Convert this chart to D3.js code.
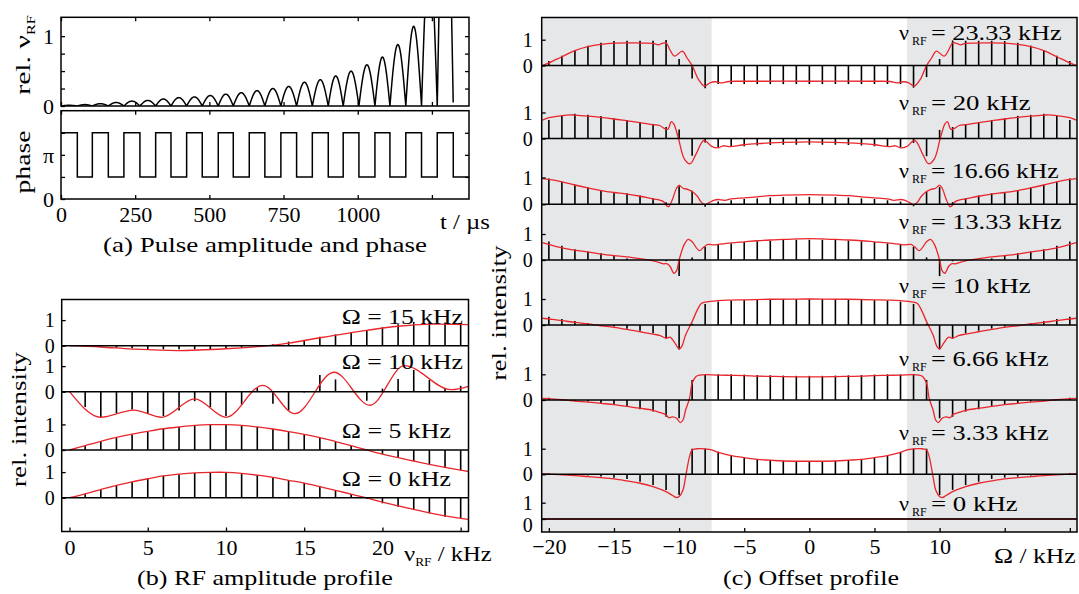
<!DOCTYPE html>
<html><head><meta charset="utf-8">
<script src="https://cdn.jsdelivr.net/npm/d3@7/dist/d3.min.js"></script>
<style>
body{margin:0;background:#fff}
svg text{font-family:"Liberation Serif","Times New Roman",serif;fill:#000}
.tick text{font-size:22px}
.ytk .tick text{font-size:20px}
</style></head><body>
<svg id="chart" width="1079" height="594"></svg>
<script>
// ---------------- DATA ----------------
// (a) pulse: switching times (µs) of the phase, phase per interval (units of π), arch peak amplitudes
const switchTimes = [0,55,105.6,159.5,212,266,319,370.6,423.4,476,530,580.6,634.5,687,741,794,847,900.7,951,1004,1058,1108.5,1162,1215,1268,1322,1376];
const phaseValues = [1.5,0.5,1.5,0.5,1.5,0.5,1.5,0.5,1.5,0.5,1.5,0.5,1.5,0.5,1.5,0.5,1.5,0.5,1.5,0.5,1.5,0.5,1.5,0.5,1.5,0.5];
const archPeaks = [0.01,0.02,0.033,0.05,0.07,0.08,0.1,0.12,0.13,0.15,0.17,0.19,0.22,0.25,0.28,0.34,0.376,0.43,0.5,0.59,0.7,0.88,1.14,2.2,4.0];
const timeTicks = [0,250,500,750,1000,1250];

// (b) RF amplitude profile
const nuRF = [0,1,2,3,4,5,6,7,8,9,10,11,12,13,14,15,16,17,18,19,20,21,22,23,24,25];
const stemsB15 = [0,-0.01,-0.04,-0.08,-0.1,-0.13,-0.14,-0.14,-0.14,-0.13,-0.1,-0.08,-0.04,0.06,0.16,0.22,0.35,0.44,0.52,0.61,0.72,0.84,0.93,0.93,0.91,0.86];
const stemsB10 = [0,-0.6,-1.0,-0.84,-0.7,-0.86,-0.95,-0.73,-0.37,-0.6,-0.95,-0.5,0.15,-0.47,-0.73,-0.03,0.65,0.48,0,-0.35,0.12,0.5,0.85,0.46,0.13,0.23];
const stemsB5  = [0,0.17,0.35,0.48,0.61,0.71,0.82,0.9,0.95,0.99,0.99,0.96,0.9,0.82,0.71,0.61,0.48,0.32,0.17,0,-0.17,-0.3,-0.43,-0.56,-0.69,-0.8];
const stemsB0  = [0,0.14,0.32,0.49,0.62,0.75,0.86,0.92,0.97,0.99,0.99,0.95,0.88,0.79,0.69,0.58,0.43,0.3,0.14,-0.05,-0.22,-0.35,-0.48,-0.61,-0.74,-0.83];
const curveB15 = [[0,0],[2,-0.05],[4,-0.13],[6.9,-0.19],[10,-0.12],[12.7,0],[14,0.1],[16,0.31],[19,0.6],[21,0.76],[23.1,0.84],[25.5,0.82]];
const curveB10 = [[0,0],[2,-1.0],[4.1,-0.72],[5.9,-1.0],[8.0,-0.28],[10.0,-1.0],[12.35,0.25],[14.4,-0.86],[16.9,0.76],[19.2,-0.53],[21.4,1.02],[24.4,0.08],[25.5,0.21]];
const curveB5  = [[0,0],[1,0.17],[2,0.34],[3,0.49],[4,0.62],[5,0.73],[6,0.83],[7,0.9],[8,0.96],[9,0.99],[10,0.99],[11,0.96],[12,0.9],[13,0.82],[14,0.72],[15,0.61],[16,0.48],[17,0.33],[18,0.17],[19,0.0],[20,-0.16],[21,-0.3],[22,-0.43],[23,-0.56],[24,-0.68],[25,-0.79],[25.5,-0.84]];
const curveB0  = [[0,0],[1,0.15],[2,0.32],[3,0.48],[4,0.62],[5,0.74],[6,0.85],[7,0.92],[8,0.97],[9,0.99],[10,0.99],[11,0.95],[12,0.88],[13,0.79],[14,0.68],[15,0.57],[16,0.43],[17,0.29],[18,0.14],[19,-0.01],[20,-0.17],[21,-0.32],[22,-0.46],[23,-0.59],[24,-0.71],[25,-0.81],[25.5,-0.85]];
const labelsB = ["15","10","5","0"];

// (c) Offset profile
const omegaC = [-20,-19,-18,-17,-16,-15,-14,-13,-12,-11,-10,-9,-8,-7,-6,-5,-4,-3,-2,-1,0,1,2,3,4,5,6,7,8,9,10,11,12,13,14,15,16,17,18,19,20];
const stemsC2333 = [0.17,0.38,0.6,0.77,0.88,0.95,0.96,0.96,0.96,0.99,0.25,-0.5,-0.88,-0.72,-0.72,-0.72,-0.72,-0.72,-0.72,-0.72,
  -0.72,
  -0.72,-0.72,-0.72,-0.72,-0.72,-0.72,-0.72,-0.86,-0.45,0.25,0.97,0.96,0.96,0.96,0.95,0.88,0.77,0.6,0.38,0.17];
const stemsC20 = [0.71,0.87,0.95,0.91,0.87,0.77,0.71,0.62,0.54,0.44,0.35,-0.66,-0.15,-0.34,-0.32,-0.3,-0.27,-0.25,-0.24,-0.24,
  -0.24,
  -0.24,-0.24,-0.25,-0.27,-0.3,-0.32,-0.34,-0.17,-0.68,0.33,0.44,0.54,0.62,0.71,0.77,0.87,0.91,0.95,0.87,0.71];
const stemsC1666 = [0.96,0.84,0.73,0.63,0.53,0.46,0.41,0.33,0.23,0.08,0.67,0.51,-0.09,0.1,0.15,0.2,0.22,0.25,0.27,0.28,
  0.28,
  0.28,0.27,0.25,0.22,0.2,0.15,0.1,-0.07,0.48,0.64,0.08,0.23,0.33,0.41,0.46,0.53,0.63,0.73,0.84,0.96];
const stemsC1333 = [0.71,0.55,0.41,0.32,0.26,0.17,0.06,0.0,-0.03,-0.05,-0.62,0.1,0.51,0.58,0.64,0.69,0.72,0.74,0.77,0.78,
  0.78,
  0.78,0.77,0.74,0.72,0.69,0.64,0.58,0.51,0.1,-0.62,-0.05,-0.03,0.0,0.06,0.17,0.26,0.32,0.41,0.55,0.71];
const stemsC10 = [0.32,0.23,0.15,0.06,0.0,-0.06,-0.14,-0.22,-0.32,-0.51,-0.94,0.05,0.81,0.9,0.94,0.96,0.97,0.98,1.0,1.0,
  1.0,
  1.0,1.0,0.98,0.97,0.96,0.94,0.9,0.81,0.05,-0.94,-0.51,-0.32,-0.22,-0.14,-0.06,0.0,0.06,0.15,0.23,0.32];
const stemsC666 = [0.09,0.0,-0.04,-0.06,-0.13,-0.19,-0.26,-0.36,-0.45,-0.65,-0.71,0.78,1.0,1.0,1.0,0.99,0.97,0.96,0.95,0.94,
  0.94,
  0.94,0.95,0.96,0.97,0.99,1.0,1.0,1.0,0.78,-0.71,-0.65,-0.45,-0.36,-0.26,-0.19,-0.13,-0.06,-0.04,0.0,0.09];
const stemsC333 = [0.04,0.0,-0.03,-0.05,-0.09,-0.13,-0.18,-0.29,-0.42,-0.61,-0.81,1.0,1.0,0.88,0.75,0.65,0.6,0.56,0.53,0.52,
  0.52,
  0.52,0.53,0.56,0.6,0.65,0.75,0.88,1.0,1.0,-0.81,-0.61,-0.42,-0.29,-0.18,-0.13,-0.09,-0.05,-0.03,0.0,0.04];
const stemsC0 = [0,0,0,0,0,0,0,0,0,0,0,0,0,0,0,0,0,0,0,0,0,0,0,0,0,0,0,0,0,0,0,0,0,0,0,0,0,0,0,0,0];

const curveC2333 = [[-20.5,0],[-20,0.1],[-19,0.34],[-18,0.58],[-17,0.73],[-16,0.82],[-15,0.87],[-14,0.88],[-13,0.87],[-12,0.86],[-11.6,0.8],[-11.3,0.86],[-11,0.88],[-10.7,0.6],[-10.35,0.36],[-9.75,0.56],[-9.4,0.3],[-9,0],[-8.5,-0.55],[-8.05,-0.8],[-7.6,-0.66],[-7.2,-0.63],[-6.7,-0.67],[-6.2,-0.62],[-5,-0.61],[0,-0.61],
  [5,-0.61],[6.2,-0.62],[6.7,-0.67],[7.2,-0.63],[7.6,-0.66],[8.05,-0.8],[8.5,-0.55],[9,0],[9.4,0.3],[9.75,0.56],[10.35,0.36],[10.7,0.6],[11,0.88],[11.3,0.86],[11.6,0.8],[12,0.86],[13,0.87],[14,0.88],[15,0.87],[16,0.82],[17,0.73],[18,0.58],[19,0.34],[20,0.1],[20.5,0]];
const curveC20 = [[-20.5,0.71],[-20,0.8],[-19,0.88],[-18.4,0.91],[-18,0.9],[-17,0.86],[-16,0.81],[-15,0.75],[-14,0.68],[-13,0.61],[-12,0.53],[-11.5,0.5],[-11.1,0.38],[-10.85,0.36],[-10.6,0.65],[-10.4,0.55],[-10.05,0],[-9.6,-0.78],[-9.15,-0.97],[-8.7,-0.6],[-8.1,-0.07],[-7.5,-0.3],[-7,-0.36],[-6.6,-0.28],[-6.2,-0.31],[-5,-0.24],[-4,-0.2],[-3,-0.17],[-2,-0.15],[0,-0.13],
  [2,-0.15],[3,-0.17],[4,-0.2],[5,-0.24],[6.2,-0.31],[6.6,-0.28],[7,-0.36],[7.5,-0.3],[8.1,-0.07],[8.7,-0.6],[9.15,-0.97],[9.6,-0.78],[10.05,0],[10.4,0.55],[10.6,0.65],[10.85,0.36],[11.1,0.38],[11.5,0.5],[12,0.53],[13,0.61],[14,0.68],[15,0.75],[16,0.81],[17,0.86],[18,0.9],[18.4,0.91],[19,0.88],[20,0.8],[20.5,0.71]];
const curveC1666 = [[-20.5,0.96],[-20,0.93],[-19,0.84],[-18,0.72],[-17,0.61],[-16,0.51],[-15,0.44],[-14,0.38],[-13,0.3],[-12,0.2],[-11.5,0.16],[-11.2,0.1],[-11,-0.03],[-10.8,-0.09],[-10.5,0.2],[-10.2,0.6],[-10,0.71],[-9.7,0.6],[-9.3,0.55],[-9,0.48],[-8.6,0.3],[-8.3,0.08],[-8,-0.01],[-7.7,0.06],[-7.3,0.16],[-7,0.18],[-6.5,0.15],[-6,0.2],[-5,0.24],[-4,0.28],[-3,0.32],[-2,0.34],[0,0.36],
  [2,0.34],[3,0.32],[4,0.28],[5,0.24],[6,0.2],[6.5,0.15],[7,0.18],[7.3,0.16],[7.7,0.06],[8,-0.01],[8.3,0.08],[8.6,0.3],[9,0.48],[9.3,0.55],[9.7,0.6],[10,0.71],[10.2,0.6],[10.5,0.2],[10.8,-0.09],[11,-0.03],[11.2,0.1],[11.5,0.16],[12,0.2],[13,0.3],[14,0.38],[15,0.44],[16,0.51],[17,0.61],[18,0.72],[19,0.84],[20,0.93],[20.5,0.96]];
const curveC1333 = [[-20.5,0.67],[-20,0.6],[-19,0.47],[-18,0.38],[-17,0.31],[-16,0.23],[-15,0.17],[-14,0.12],[-13,0.05],[-12,-0.03],[-11.5,-0.1],[-11.2,-0.15],[-10.95,-0.14],[-10.7,-0.24],[-10.4,-0.51],[-10.2,-0.42],[-10,0],[-9.6,0.6],[-9.3,0.79],[-9,0.7],[-8.45,0.36],[-8.1,0.5],[-7.8,0.6],[-7.3,0.58],[-7,0.6],[-6,0.66],[-5,0.7],[-4,0.74],[-3,0.77],[-2,0.79],[-1,0.81],[0,0.82],
  [1,0.81],[2,0.79],[3,0.77],[4,0.74],[5,0.7],[6,0.66],[7,0.6],[7.3,0.58],[7.8,0.6],[8.1,0.5],[8.45,0.36],[9,0.7],[9.3,0.79],[9.6,0.6],[10,0],[10.2,-0.42],[10.4,-0.51],[10.7,-0.24],[10.95,-0.14],[11.2,-0.15],[11.5,-0.1],[12,-0.03],[13,0.05],[14,0.12],[15,0.17],[16,0.23],[17,0.31],[18,0.38],[19,0.47],[20,0.6],[20.5,0.67]];
const curveC10 = [[-20.5,0.26],[-20,0.23],[-19,0.17],[-18,0.1],[-17,0.04],[-16,-0.03],[-15,-0.09],[-14,-0.17],[-13,-0.26],[-12,-0.35],[-11.5,-0.4],[-11,-0.51],[-10.7,-0.47],[-10.3,-0.71],[-10,-0.92],[-9.8,-0.83],[-9.5,-0.38],[-9,0.13],[-8.6,0.58],[-8.3,0.83],[-8,0.88],[-7,0.94],[-6,0.96],[-5,0.97],[-3,0.99],[0,1.0],
  [3,0.99],[5,0.97],[6,0.96],[7,0.94],[8,0.88],[8.3,0.83],[8.6,0.58],[9,0.13],[9.5,-0.38],[9.8,-0.83],[10,-0.92],[10.3,-0.71],[10.7,-0.47],[11,-0.51],[11.5,-0.4],[12,-0.35],[13,-0.26],[14,-0.17],[15,-0.09],[16,-0.03],[17,0.04],[18,0.1],[19,0.17],[20,0.23],[20.5,0.26]];
const curveC666 = [[-20.5,0.06],[-20,0.05],[-19,0.01],[-18,-0.04],[-17,-0.08],[-16,-0.13],[-15,-0.18],[-14,-0.25],[-13,-0.32],[-12,-0.4],[-11.5,-0.48],[-11,-0.58],[-10.8,-0.69],[-10.5,-0.66],[-10.2,-0.71],[-9.9,-0.88],[-9.7,-0.78],[-9.5,-0.39],[-9.2,0.06],[-9,0.65],[-8.7,0.91],[-8.4,0.97],[-8,0.99],[-7,0.97],[-6,0.96],[-5,0.95],[-4,0.93],[-3,0.92],[-2,0.91],[0,0.9],
  [2,0.91],[3,0.92],[4,0.93],[5,0.95],[6,0.96],[7,0.97],[8,0.99],[8.4,0.97],[8.7,0.91],[9,0.65],[9.2,0.06],[9.5,-0.39],[9.7,-0.78],[9.9,-0.88],[10.2,-0.71],[10.5,-0.66],[10.8,-0.69],[11,-0.58],[11.5,-0.48],[12,-0.4],[13,-0.32],[14,-0.25],[15,-0.18],[16,-0.13],[17,-0.08],[18,-0.04],[19,0.01],[20,0.05],[20.5,0.06]];
const curveC333 = [[-20.5,0.03],[-20,0.01],[-18,-0.05],[-17,-0.09],[-16,-0.13],[-15,-0.18],[-14,-0.26],[-13,-0.35],[-12,-0.48],[-11,-0.68],[-10.5,-0.83],[-10.2,-0.91],[-10,-0.87],[-9.7,-0.61],[-9.5,-0.1],[-9.2,0.69],[-9,0.95],[-8.5,1.0],[-8,0.99],[-7.5,0.95],[-7,0.86],[-6,0.73],[-5,0.65],[-4,0.58],[-3,0.55],[-2,0.52],[0,0.51],
  [2,0.52],[3,0.55],[4,0.58],[5,0.65],[6,0.73],[7,0.86],[7.5,0.95],[8,0.99],[8.5,1.0],[9,0.95],[9.2,0.69],[9.5,-0.1],[9.7,-0.61],[10,-0.87],[10.2,-0.91],[10.5,-0.83],[11,-0.68],[12,-0.48],[13,-0.35],[14,-0.26],[15,-0.18],[16,-0.13],[17,-0.09],[18,-0.05],[20,0.01],[20.5,0.03]];
const curveC0 = [[-20.5,0],[20.5,0]];
const labelsC = ["23.33","20","16.66","13.33","10","6.66","3.33","0"];
const omegaTicks = [-20,-15,-10,-5,0,5,10,15,20];

// ---------------- DRAWING ----------------
const svg = d3.select("#chart");
const RED = "#e8262c", GRAY = "#e6e7e9";
const intFmt = d3.format("d");

function label(parent, x, y, segs, o = {}) {
  const g = parent.append("g").attr("transform", `translate(${x},${y})` + (o.rot ? ` rotate(${o.rot})` : ""));
  const t = g.append("text").attr("text-anchor", o.anchor || "start").attr("font-size", o.size || 22);
  let prevSub = false;
  (typeof segs === "string" ? [{t: segs}] : segs).forEach(s => {
    const ts = t.append("tspan").text(s.t);
    if (s.sub) { ts.attr("font-size", o.subSize || 12).attr("dy", prevSub ? 0 : 5); prevSub = true; }
    else if (prevSub) { ts.attr("dy", -5); prevSub = false; }
  });
  if (o.width) {
    const w = t.node().getBBox().width;
    t.attr("transform", `scale(${o.width / w},1)`);
  }
  return t;
}
function styleAxis(g) {
  g.select(".domain").remove();
  g.attr("font-family", null).attr("font-size", null);
  g.selectAll(".tick line").attr("stroke", "#000").attr("stroke-width", 1.3);
}
function box(x0, y0, x1, y1) {
  svg.append("rect").attr("x", x0).attr("y", y0).attr("width", x1 - x0).attr("height", y1 - y0)
    .attr("fill", "none").attr("stroke", "#000").attr("stroke-width", 1.5);
}

// ===== Panel (a) =====
const A = {l: 61, r: 469, t1: 17.3, b1: 106, t2: 110.7, b2: 199};
const xA = d3.scaleLinear().domain([0, 1375]).range([A.l, A.r]);
const yAmp = d3.scaleLinear().domain([0, 1.27]).range([A.b1, A.t1]);
const yPh = d3.scaleLinear().domain([0, 2]).range([A.b2, A.t2]);

svg.append("clipPath").attr("id", "clipA").append("rect")
  .attr("x", A.l).attr("y", A.t1).attr("width", A.r - A.l).attr("height", A.b1 - A.t1);

// amplitude arches: each arch spans one phase interval, half-sine shaped, height = peak
const ampPts = [];
archPeaks.forEach((p, i) => {
  const t0 = switchTimes[i], t1 = switchTimes[i + 1];
  const fEnd = i === archPeaks.length - 1 ? 0.996 : 1;
  for (let j = 0; j <= 60; j++) {
    const f = j / 60 * fEnd;
    ampPts.push([t0 + f * (t1 - t0), p * Math.sin(Math.PI * f)]);
  }
});
svg.append("path").datum(ampPts).attr("clip-path", "url(#clipA)")
  .attr("fill", "none").attr("stroke", "#000").attr("stroke-width", 1.5)
  .attr("d", d3.line().x(d => xA(d[0])).y(d => yAmp(d[1])));

const phPts = phaseValues.map((v, i) => [switchTimes[i], v]);
phPts.push([switchTimes[switchTimes.length - 1], phaseValues[phaseValues.length - 1]]);
svg.append("path").datum(phPts).attr("fill", "none").attr("stroke", "#000").attr("stroke-width", 1.5)
  .attr("d", d3.line().curve(d3.curveStepAfter).x(d => xA(d[0])).y(d => yPh(d[1])));

box(A.l, A.t1, A.r, A.b1);
box(A.l, A.t2, A.r, A.b2);

// axes (a)
[[A.t1, "top"], [A.b1, "bottom"], [A.t2, "top"]].forEach(([y, side]) => {
  const ax = side === "top" ? d3.axisTop(xA) : d3.axisBottom(xA);
  svg.append("g").attr("transform", `translate(0,${y})`)
    .call(ax.tickValues(timeTicks).tickSize(-4).tickFormat("")).call(styleAxis);
});
svg.append("g").attr("transform", `translate(0,${A.b2})`)
  .call(d3.axisBottom(xA).tickValues(timeTicks).tickSize(-4).tickPadding(6)
    .tickFormat(d => d <= 1000 ? d : "")).call(styleAxis)
  .selectAll("text").attr("y", 22.5).attr("dy", 0);
svg.append("g").attr("transform", `translate(${A.l},0)`)
  .call(d3.axisLeft(yAmp).tickValues([0, 0.25, 0.5, 0.75, 1]).tickSize(-4).tickPadding(7)
    .tickFormat(d => (d === 0 || d === 1) ? intFmt(d) : "")).call(styleAxis)
  .selectAll("text").attr("dy", "0.33em");
svg.append("g").attr("transform", `translate(${A.r},0)`)
  .call(d3.axisRight(yAmp).tickValues([0.25, 0.5, 0.75, 1]).tickSize(-4).tickFormat("")).call(styleAxis);
svg.append("g").attr("transform", `translate(${A.l},0)`)
  .call(d3.axisLeft(yPh).tickValues([0, 0.5, 1, 1.5]).tickSize(-4).tickPadding(7)
    .tickFormat(d => d === 0 ? "0" : d === 1 ? "π" : "")).call(styleAxis)
  .selectAll("text").attr("dy", "0.33em");
svg.append("g").attr("transform", `translate(${A.r},0)`)
  .call(d3.axisRight(yPh).tickValues([0.5, 1, 1.5]).tickSize(-4).tickFormat("")).call(styleAxis);

label(svg, 30, 55, [{t: "rel. ν"}, {t: "RF", sub: true}], {anchor: "middle", rot: -90, width: 80});
label(svg, 30, 162, "phase", {anchor: "middle", rot: -90, width: 63});
label(svg, 440, 229, "t / µs", {width: 50});
label(svg, 265, 252, "(a) Pulse amplitude and phase", {anchor: "middle", width: 324});

// ===== Panel (b) =====
const B = {l: 61.7, r: 468.5, t: 299.5, b: 531.5};
const xB = d3.scaleLinear().domain([-0.5, 25.5]).range([B.l, B.r]);
const rowsB = [
  {stems: stemsB15, curve: curveB15, base: 345.7, lab: labelsB[0], ly: 324, lw: 121.7, smooth: d3.curveCatmullRom},
  {stems: stemsB10, curve: curveB10, base: 391.7, lab: labelsB[1], ly: 369, lw: 121.7, smooth: d3.curveMonotoneX},
  {stems: stemsB5,  curve: curveB5,  base: 450,   lab: labelsB[2], ly: 437.5, lw: 109.5, smooth: d3.curveCatmullRom},
  {stems: stemsB0,  curve: curveB0,  base: 497.7, lab: labelsB[3], ly: 485.5, lw: 109.5, smooth: d3.curveCatmullRom}
];
rowsB.forEach(row => {
  const y = d3.scaleLinear().domain([0, 1]).range([row.base, row.base - 25.6]);
  svg.append("g").selectAll("line").data(nuRF).join("line")
    .attr("x1", d => xB(d)).attr("x2", d => xB(d))
    .attr("y1", y(0)).attr("y2", (d, i) => y(row.stems[i]))
    .attr("stroke", "#000").attr("stroke-width", 1.6);
  svg.append("path").datum(row.curve).attr("fill", "none").attr("stroke", RED).attr("stroke-width", 1.3)
    .attr("d", d3.line().curve(row.smooth).x(d => xB(d[0])).y(d => y(d[1])));
  svg.append("line").attr("x1", B.l).attr("x2", B.r).attr("y1", y(0)).attr("y2", y(0))
    .attr("stroke", "#000").attr("stroke-width", 1.5);
  svg.append("g").attr("class", "ytk").attr("transform", `translate(${B.l},0)`)
    .call(d3.axisLeft(y).tickValues([0, 1]).tickSize(-4).tickPadding(7).tickFormat(intFmt)).call(styleAxis)
    .selectAll("text").attr("dy", "0.33em");
  label(svg, 341.7, row.ly, `Ω = ${row.lab} kHz`, {width: row.lw});
});
box(B.l, B.t, B.r, B.b);
svg.append("g").attr("transform", `translate(0,${B.b})`)
  .call(d3.axisBottom(xB).tickValues([0, 5, 10, 15, 20, 25]).tickSize(-4)
    .tickFormat(d => d <= 20 ? d : "")).call(styleAxis)
  .selectAll("text").attr("y", 23.5).attr("dy", 0);
label(svg, 404, 561, [{t: "ν"}, {t: "RF", sub: true}, {t: " / kHz"}], {width: 88});
label(svg, 265, 585, "(b) RF amplitude profile", {anchor: "middle", width: 256});
label(svg, 26, 419.5, "rel. intensity", {anchor: "middle", rot: -90, width: 135});

// ===== Panel (c) =====
const C = {l: 541.7, r: 1077, t: 17.5, b: 532};
const xC = d3.scaleLinear().domain([-20.55, 20.55]).range([C.l, C.r]);
svg.append("g").selectAll("rect").data([[-20.55, -7.5], [7.5, 20.55]]).join("rect")
  .attr("x", d => xC(d[0])).attr("width", d => xC(d[1]) - xC(d[0]))
  .attr("y", C.t).attr("height", C.b - C.t).attr("fill", GRAY);

const rowsC = [
  {stems: stemsC2333, curve: curveC2333, base: 65.5,  top: 39.7,  ly: 40,    ex: 1062},
  {stems: stemsC20,   curve: curveC20,   base: 138.5, top: 112.5, ly: 110,   ex: 1031},
  {stems: stemsC1666, curve: curveC1666, base: 204.3, top: 177.5, ly: 178.3, ex: 1059},
  {stems: stemsC1333, curve: curveC1333, base: 260,   top: 234,   ly: 229.3, ex: 1062},
  {stems: stemsC10,   curve: curveC10,   base: 325,   top: 299,   ly: 293.3, ex: 1031},
  {stems: stemsC666,  curve: curveC666,  base: 400,   top: 374.3, ly: 366,   ex: 1049},
  {stems: stemsC333,  curve: curveC333,  base: 474.3, top: 448.7, ly: 440,   ex: 1049},
  {stems: stemsC0,    curve: curveC0,    base: 519,   top: 502.7, ly: 511,   ex: 1018}
];
rowsC.forEach((row, k) => {
  const y = d3.scaleLinear().domain([0, 1]).range([row.base, row.top]);
  svg.append("g").selectAll("line").data(omegaC).join("line")
    .attr("x1", d => xC(d)).attr("x2", d => xC(d))
    .attr("y1", y(0)).attr("y2", (d, i) => y(row.stems[i]))
    .attr("stroke", "#000").attr("stroke-width", 1.6);
  svg.append("path").datum(row.curve).attr("fill", "none").attr("stroke", RED).attr("stroke-width", 1.3)
    .attr("d", d3.line().curve(d3.curveCatmullRom.alpha(0.5)).x(d => xC(d[0])).y(d => y(d[1])));
  svg.append("line").attr("x1", C.l).attr("x2", C.r).attr("y1", y(0)).attr("y2", y(0))
    .attr("stroke", "#000").attr("stroke-width", 1.5);
  const ag = svg.append("g").attr("class", "ytk").attr("transform", `translate(${C.l},0)`)
    .call(d3.axisLeft(y).tickValues([0, 1]).tickSize(-4).tickPadding(9).tickFormat(intFmt)).call(styleAxis);
  ag.selectAll("text").attr("dy", "0.33em");
  if (k === rowsC.length - 1) ag.selectAll("text").filter(d => d === 0).attr("dy", "0.6em");
  label(svg, 899, row.ly, "ν");
  label(svg, 912, row.ly + 5, "RF", {size: 12});
  label(svg, 931, row.ly, `= ${labelsC[k]} kHz`, {width: row.ex - 931});
});
box(C.l, C.t, C.r, C.b);
svg.append("g").attr("transform", `translate(0,${C.b})`)
  .call(d3.axisBottom(xC).tickValues(omegaTicks).tickSize(-4)
    .tickFormat(d => d <= 10 ? (d < 0 ? "−" + Math.abs(d) : d) : "")).call(styleAxis)
  .selectAll("text").attr("y", 21.5).attr("dy", 0);
label(svg, 994, 563, "Ω / kHz", {width: 82});
label(svg, 811, 585, "(c) Offset profile", {anchor: "middle", width: 176});
label(svg, 506, 313, "rel. intensity", {anchor: "middle", rot: -90, width: 135});
</script>
</body></html>
